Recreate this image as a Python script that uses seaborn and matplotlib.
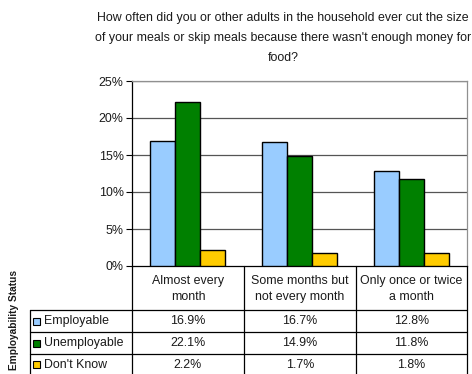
import matplotlib
matplotlib.use("Agg")
import matplotlib.pyplot as plt
import seaborn as sns
import pandas as pd
from matplotlib.lines import Line2D
from matplotlib.patches import Rectangle

categories = ["Almost every\nmonth", "Some months but\nnot every month", "Only once or twice\na month"]
series_names = ["Employable", "Unemployable", "Don't Know"]
employable = [16.9, 16.7, 12.8]
unemployable = [22.1, 14.9, 11.8]
dont_know = [2.2, 1.7, 1.8]
colors = ["#99CCFF", "#008000", "#FFCC00"]
yticks = [0, 5, 10, 15, 20, 25]
title = ("How often did you or other adults in the household ever cut the size\n"
         "of your meals or skip meals because there wasn't enough money for\nfood?")

sns.set_theme(style="white")
plt.rcParams["font.family"] = ["Liberation Sans", "DejaVu Sans"]

rows = []
for name, vals in zip(series_names, [employable, unemployable, dont_know]):
    for c, v in zip(categories, vals):
        rows.append({"cat": c, "series": name, "val": v})
df = pd.DataFrame(rows)

W, H = 472, 374
fig = plt.figure(figsize=(W / 100, H / 100), dpi=100)

def fx(px):
    return px / W

def fy(py):
    return 1 - py / H

FS = 8.9
TC = "#1a1a1a"
L, R, T, B = 132, 467, 81, 266
ax = fig.add_axes([fx(L), fy(B), fx(R - L), (B - T) / H])
sns.barplot(data=df, x="cat", y="val", hue="series", order=categories,
            hue_order=series_names, palette=colors, saturation=1, width=0.67,
            edgecolor="black", linewidth=1.0, ax=ax, legend=False, zorder=3)
ax.set_ylim(0, 25)
ax.set_xlim(-0.5, 2.5)
ax.set_yticks(yticks)
ax.set_yticklabels([f"{t}%" for t in yticks], fontsize=FS, color=TC)
ax.set_xticks([])
ax.set_xlabel("")
ax.set_ylabel("")
for t in yticks[1:]:
    ax.axhline(t, color="#555555", lw=0.9, zorder=1)
ax.tick_params(axis="y", length=4, width=0.8, color="black", pad=2, left=True)
for side in ["top", "right"]:
    ax.spines[side].set_color("#909090")
    ax.spines[side].set_linewidth(0.9)
ax.spines["left"].set_color("black")
ax.spines["bottom"].set_color("black")
ax.spines["left"].set_linewidth(0.9)
ax.spines["bottom"].set_linewidth(0.9)

fig.text(fx(283), fy(38), title, ha="center", va="center", fontsize=FS,
         linespacing=1.85, color=TC)

# table
cols = [L, 244, 356, R]
rows_y = [B, 310, 332, 354, 375]
TL = 30
lc = "black"
lw = 0.9
for x in cols:
    fig.add_artist(Line2D([fx(x), fx(x)], [fy(B), fy(375)], transform=fig.transFigure, color=lc, lw=lw))
fig.add_artist(Line2D([fx(TL), fx(TL)], [fy(310), fy(375)], transform=fig.transFigure, color=lc, lw=lw))
for y in rows_y[1:]:
    fig.add_artist(Line2D([fx(TL), fx(R)], [fy(y), fy(y)], transform=fig.transFigure, color=lc, lw=lw))

for i, c in enumerate(categories):
    cx = (cols[i] + cols[i + 1]) / 2
    fig.text(fx(cx), fy(289), c, ha="center", va="center", fontsize=FS,
             linespacing=1.45, color=TC)

for r, (name, vals, col) in enumerate(zip(series_names, [employable, unemployable, dont_know], colors)):
    cy = (rows_y[r + 1] + rows_y[r + 2]) / 2
    fig.add_artist(Rectangle((fx(33), fy(cy + 3.5)), 7 / W, 7 / H, transform=fig.transFigure,
                             facecolor=col, edgecolor="black", lw=0.8))
    fig.text(fx(44), fy(cy), name, ha="left", va="center", fontsize=FS, color=TC)
    for i, v in enumerate(vals):
        cx = (cols[i] + cols[i + 1]) / 2
        fig.text(fx(cx), fy(cy), f"{v}%", ha="center", va="center", fontsize=FS, color=TC)

fig.text(fx(14), fy(320), "Employability Status", rotation=90, ha="center", va="center",
         fontsize=7.3, fontweight="bold", color=TC)

fig.savefig("out.png", dpi=100)
